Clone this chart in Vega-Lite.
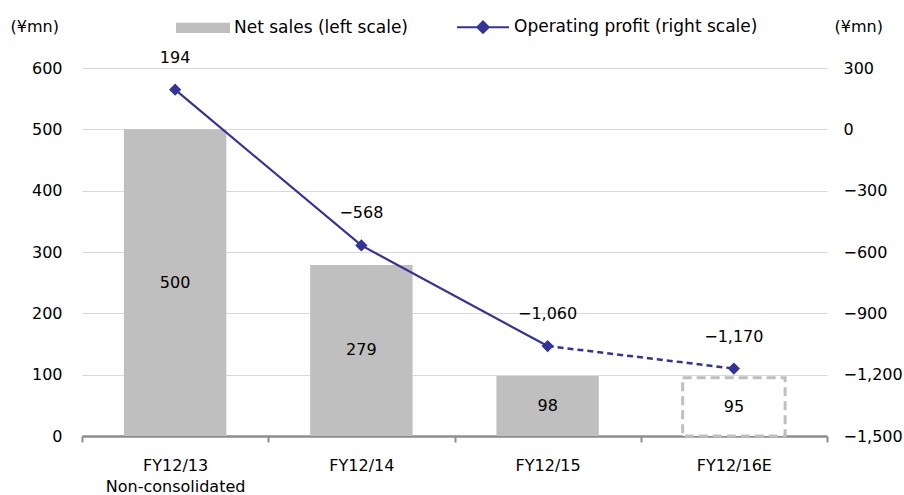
{
  "$schema": "https://vega.github.io/schema/vega-lite/v6.json",
  "width": 745,
  "height": 368,
  "autosize": {"type": "none"},
  "padding": {"left": 82, "top": 68, "right": 77, "bottom": 59},
  "background": "white",
  "config": {
    "view": {"stroke": null},
    "font": "DejaVu Sans",
    "text": {"font": "DejaVu Sans", "fontSize": 16, "color": "#000000"},
    "axis": {"labelFont": "DejaVu Sans", "labelFontSize": 16, "labelColor": "#000000", "titleFont": "DejaVu Sans", "titleFontSize": 16, "titleFontWeight": "normal", "titleColor": "#000000"},
    "legend": {"labelFont": "DejaVu Sans", "labelFontSize": 17, "labelColor": "#000000", "symbolSize": 2704, "symbolStrokeWidth": 2, "labelLimit": 400}
  },
  "data": {
    "values": [
      {"year": "FY12/13", "sales": 500, "profit": 194, "kind": "actual"},
      {"year": "FY12/14", "sales": 279, "profit": -568, "kind": "actual"},
      {"year": "FY12/15", "sales": 98, "profit": -1060, "kind": "actual"},
      {"year": "FY12/16E", "sales": 95, "profit": -1170, "kind": "estimate"}
    ]
  },
  "encoding": {
    "x": {
      "field": "year",
      "type": "nominal",
      "sort": null,
      "scale": {"domain": ["FY12/13", "FY12/14", "FY12/15", "FY12/16E"], "paddingInner": 0, "paddingOuter": 0},
      "axis": {
        "title": null,
        "labelAngle": 0,
        "tickBand": "extent",
        "domainColor": "#8c8c8c",
        "domainWidth": 2.5,
        "tickColor": "#8c8c8c",
        "tickWidth": 2,
        "tickSize": 6,
        "labelPadding": 15,
        "labelLineHeight": 21,
        "labelExpr": "datum.value == 'FY12/13' ? ['FY12/13', 'Non-consolidated'] : datum.label"
      }
    }
  },
  "layer": [
    {
      "transform": [{"filter": "datum.kind == 'actual'"}],
      "mark": {"type": "bar", "width": {"band": 0.55}},
      "encoding": {
        "y": {
          "field": "sales",
          "type": "quantitative",
          "scale": {"domain": [0, 600]},
          "axis": {
            "orient": "left",
            "values": [0, 100, 200, 300, 400, 500, 600],
            "format": ",.0f",
            "domain": false,
            "ticks": false,
            "grid": true,
            "gridColor": "#d9d9d9",
            "gridWidth": 1,
            "labelPadding": 20,
            "title": "(¥mn)",
            "titleAngle": 0,
            "titleAlign": "left",
            "titleBaseline": "middle",
            "titleX": -72,
            "titleY": -42
          }
        },
        "color": {
          "datum": "Net sales (left scale)",
          "scale": {"domain": ["Net sales (left scale)", "Operating profit (right scale)"], "range": ["#bfbfbf", "#333399"]},
          "legend": {
            "title": null,
            "orient": "none",
            "direction": "horizontal",
            "legendX": 94,
            "legendY": -68,
            "symbolSize": 2704,
            "symbolStrokeWidth": 2,
            "symbolOffset": 0,
            "labelLimit": 400,
            "labelOffset": 4,
            "columnPadding": 45,
            "encode": {
              "symbols": {
                "update": {
                  "shape": {"signal": "datum.value === 'Net sales (left scale)' ? 'M-1,-0.16H1V0.16H-1Z' : 'M-1,0H1M0,-0.22L0.22,0L0,0.22L-0.22,0Z'"},
                  "size": {"value": 2704},
                  "fill": {"signal": "datum.value === 'Net sales (left scale)' ? '#bfbfbf' : '#333399'"},
                  "stroke": {"signal": "datum.value === 'Net sales (left scale)' ? '#bfbfbf' : '#333399'"},
                  "strokeWidth": {"value": 2},
                  "opacity": {"value": 1},
                  "fillOpacity": {"value": 1},
                  "strokeOpacity": {"value": 1}
                }
              }
            }
          }
        }
      }
    },
    {
      "transform": [{"filter": "datum.kind == 'estimate'"}],
      "mark": {"type": "bar", "width": {"band": 0.55}, "fill": "white", "stroke": "#bfbfbf", "strokeWidth": 3, "strokeDash": [9, 5]},
      "encoding": {
        "y": {"field": "sales", "type": "quantitative", "scale": {"domain": [0, 600]}, "axis": null}
      }
    },
    {
      "mark": {"type": "text", "baseline": "middle", "align": "center"},
      "encoding": {
        "y": {"field": "sales", "type": "quantitative", "scale": {"domain": [0, 1200]}, "axis": null},
        "text": {"field": "sales", "type": "quantitative", "format": ",.0f"}
      }
    },
    {
      "transform": [{"filter": "datum.kind == 'actual'"}],
      "mark": {"type": "line", "color": "#333399", "strokeWidth": 2.2},
      "encoding": {
        "y": {
          "field": "profit",
          "type": "quantitative",
          "scale": {"domain": [-1500, 300]},
          "axis": {
            "orient": "right",
            "values": [-1500, -1200, -900, -600, -300, 0, 300],
            "format": ",.0f",
            "domain": false,
            "ticks": false,
            "grid": false,
            "labelPadding": 16,
            "title": "(¥mn)",
            "titleAngle": 0,
            "titleAlign": "left",
            "titleBaseline": "middle",
            "titleX": 7,
            "titleY": -42
          }
        },
        "color": {
          "datum": "Operating profit (right scale)",
          "legend": {
            "title": null,
            "orient": "none",
            "direction": "horizontal",
            "legendX": 94,
            "legendY": -68,
            "symbolSize": 2704,
            "symbolStrokeWidth": 2,
            "symbolOffset": 0,
            "labelLimit": 400,
            "labelOffset": 4,
            "columnPadding": 45
          }
        }
      }
    },
    {
      "transform": [{"filter": "datum.year == 'FY12/15' || datum.year == 'FY12/16E'"}],
      "mark": {"type": "line", "color": "#333399", "strokeWidth": 2.5, "strokeDash": [6, 4]},
      "encoding": {
        "y": {"field": "profit", "type": "quantitative", "scale": {"domain": [-1500, 300]}, "axis": null}
      }
    },
    {
      "mark": {"type": "point", "shape": "diamond", "filled": true, "color": "#333399", "size": 150, "opacity": 1},
      "encoding": {
        "y": {"field": "profit", "type": "quantitative", "scale": {"domain": [-1500, 300]}, "axis": null}
      }
    },
    {
      "mark": {"type": "text", "baseline": "middle", "align": "center", "dy": -32},
      "encoding": {
        "y": {"field": "profit", "type": "quantitative", "scale": {"domain": [-1500, 300]}, "axis": null},
        "text": {"field": "profit", "type": "quantitative", "format": ",.0f"}
      }
    }
  ],
  "resolve": {"scale": {"y": "independent"}}
}
